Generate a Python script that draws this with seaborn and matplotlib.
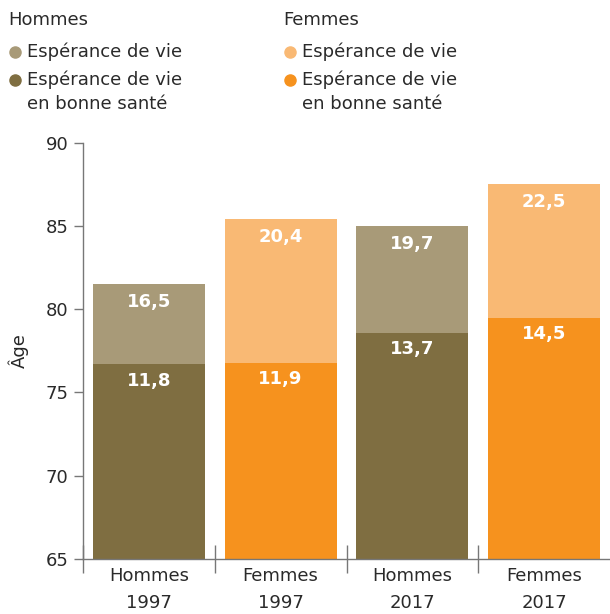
import matplotlib
matplotlib.use("Agg")
import matplotlib.pyplot as plt
import seaborn as sns

# Données (âges atteints)
categories = ["Hommes\n1997", "Femmes\n1997", "Hommes\n2017", "Femmes\n2017"]
esperance_vie = [81.5, 85.4, 85.0, 87.5]
esperance_bonne_sante = [76.7, 76.8, 78.6, 79.5]
etiquettes_vie = ["16,5", "20,4", "19,7", "22,5"]
etiquettes_sante = ["11,8", "11,9", "13,7", "14,5"]

couleurs_claires = ["#A89A78", "#F9B974", "#A89A78", "#F9B974"]
couleurs_foncees = ["#7F6E41", "#F6921E", "#7F6E41", "#F6921E"]

sns.set_style("white")
plt.rcParams["font.family"] = ["DejaVu Sans"]
plt.rcParams["text.color"] = "#2a2a2a"

fig = plt.figure(figsize=(6.1, 6.14), dpi=100)
ax = fig.add_axes([83 / 610, 1 - 559 / 614, 1 - 83 / 610, (559 - 142.7) / 614])

sns.barplot(x=categories, y=esperance_vie, hue=categories, palette=couleurs_claires,
            width=0.85, legend=False, ax=ax, saturation=1, linewidth=0)
sns.barplot(x=categories, y=esperance_bonne_sante, hue=categories, palette=couleurs_foncees,
            width=0.85, legend=False, ax=ax, saturation=1, linewidth=0)

ax.set_ylim(65, 90)
ax.set_xlim(-0.5, 3.5)
ax.set_yticks([65, 70, 75, 80, 85, 90])
ax.tick_params(axis="y", direction="out", length=6.5, width=1, color="#777777",
               labelsize=13, labelcolor="#2a2a2a", pad=4, left=True)

# séparateurs entre les catégories
ax.set_xticks([-0.5, 0.5, 1.5, 2.5])
ax.set_xticklabels([])
ax.tick_params(axis="x", which="major", direction="inout", length=20, width=1,
               color="#777777", bottom=True)
ax.set_xticks([0, 1, 2, 3], minor=True)
ax.set_xticklabels(categories, minor=True, fontsize=13, linespacing=1.65, color="#2a2a2a")
ax.tick_params(axis="x", which="minor", length=0, pad=6)

ax.set_xlabel("")
ax.set_ylabel("Âge", fontsize=13, labelpad=12)

for side in ["top", "right"]:
    ax.spines[side].set_visible(False)
for side in ["left", "bottom"]:
    ax.spines[side].set_color("#777777")
    ax.spines[side].set_linewidth(1)

for i in range(len(categories)):
    ax.annotate(etiquettes_vie[i], xy=(i, esperance_vie[i]), xytext=(0, -13),
                textcoords="offset points", ha="center", va="center",
                color="white", fontweight="bold", fontsize=13)
    ax.annotate(etiquettes_sante[i], xy=(i, esperance_bonne_sante[i]), xytext=(0, -12),
                textcoords="offset points", ha="center", va="center",
                color="white", fontweight="bold", fontsize=13)

# Légende dessinée à la main
def py(y):
    return 1 - y / 614

for x0, titre, c_clair, c_fonce in [(8, "Hommes", "#A89A78", "#7F6E41"),
                                     (283, "Femmes", "#F9B974", "#F6921E")]:
    fig.text(x0 / 610, py(20), titre, fontsize=13, va="center", ha="left")
    fig.lines.append(plt.Line2D([(x0 + 7) / 610], [py(52)], marker="o", markersize=8,
                                color=c_clair, transform=fig.transFigure))
    fig.lines.append(plt.Line2D([(x0 + 7) / 610], [py(80)], marker="o", markersize=8,
                                color=c_fonce, transform=fig.transFigure))
    fig.text((x0 + 19) / 610, py(52), "Espérance de vie", fontsize=13, va="center", ha="left")
    fig.text((x0 + 19) / 610, py(80), "Espérance de vie", fontsize=13, va="center", ha="left")
    fig.text((x0 + 19) / 610, py(104), "en bonne santé", fontsize=13, va="center", ha="left")

fig.savefig("out.png", dpi=100)
